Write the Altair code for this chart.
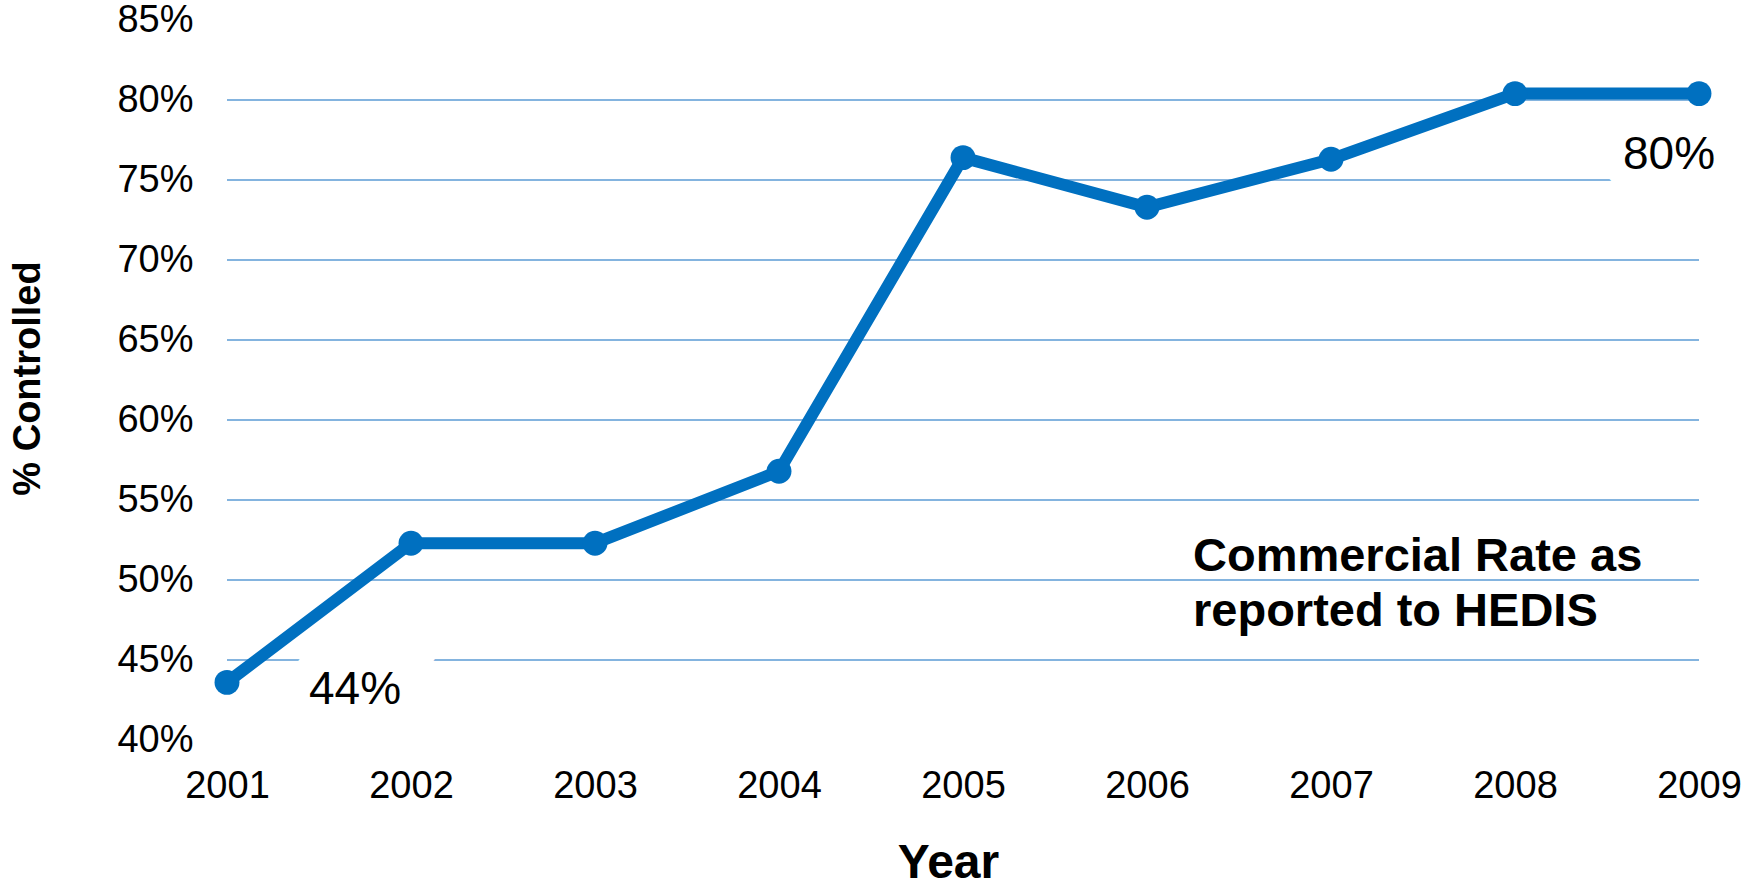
import altair as alt
import pandas as pd

# ---- data ----
years = [2001, 2002, 2003, 2004, 2005, 2006, 2007, 2008, 2009]
rates = [0.436, 0.523, 0.523, 0.568, 0.764, 0.733, 0.763, 0.804, 0.804]
y_ticks = [0.40, 0.45, 0.50, 0.55, 0.60, 0.65, 0.70, 0.75, 0.80, 0.85]
grid_values = [0.45, 0.50, 0.55, 0.60, 0.65, 0.70, 0.75, 0.80]
first_label = ["44%"]
last_label = ["80%"]
note_text = ["Commercial Rate as\nreported to HEDIS"]
note_year = [2006.25]
note_rate = [0.5056]

FONT = "Liberation Sans"
BLUE = "#0070C0"
GRID = "#5B9BD5"

df = pd.DataFrame({"year": years, "rate": rates})
grid_df = pd.DataFrame({"rate": grid_values})
first_df = pd.DataFrame({"year": [years[0]], "rate": [rates[0]], "text": first_label})
last_df = pd.DataFrame({"year": [years[-1]], "rate": [rates[-1]], "text": last_label})
note_df = pd.DataFrame({"year": note_year, "rate": note_rate, "text": note_text})

xs = alt.Scale(domain=[years[0], years[-1]], nice=False, zero=False)
ys = alt.Scale(domain=[y_ticks[0], y_ticks[-1]], nice=False, zero=False)

x_axis = alt.Axis(
    values=years, format="d", title="Year", grid=False, domain=False, ticks=False,
    labelFont=FONT, labelFontSize=38, labelColor="black", labelPadding=27,
    labelFlush=False, labelOverlap=False,
    titleFont=FONT, titleFontSize=48, titleFontWeight="bold", titleColor="black",
    titleX=721, titleY=137, titleAlign="center", titleBaseline="alphabetic",
)
y_axis = alt.Axis(
    values=y_ticks, format=".0%", title="% Controlled", grid=False, domain=False, ticks=False,
    labelFont=FONT, labelFontSize=38, labelColor="black", labelPadding=34,
    labelFlush=False, labelOverlap=False,
    titleFont=FONT, titleFontSize=38, titleFontWeight="bold", titleColor="black",
    titleAngle=270, titleX=-188, titleY=358, titleAlign="center", titleBaseline="alphabetic",
)

X = alt.X("year:Q", scale=xs, axis=x_axis)
Y = alt.Y("rate:Q", scale=ys, axis=y_axis)

grid = alt.Chart(grid_df).mark_rule(color=GRID, strokeWidth=1.3).encode(
    y=alt.Y("rate:Q", scale=ys)
)

halo_first = alt.Chart(first_df).mark_text(
    font=FONT, fontSize=46, dx=128, dy=22, align="center", baseline="alphabetic",
    fill="white", stroke="white", strokeWidth=56
).encode(x=alt.X("year:Q", scale=xs), y=alt.Y("rate:Q", scale=ys), text="text:N")

halo_last = alt.Chart(last_df).mark_text(
    font=FONT, fontSize=46, dx=-30, dy=75, align="center", baseline="alphabetic",
    fill="white", stroke="white", strokeWidth=44
).encode(x=alt.X("year:Q", scale=xs), y=alt.Y("rate:Q", scale=ys), text="text:N")

line = alt.Chart(df).mark_line(color=BLUE, strokeWidth=12).encode(x=X, y=Y)
points = alt.Chart(df).mark_circle(color=BLUE, size=620, opacity=1).encode(
    x=alt.X("year:Q", scale=xs), y=alt.Y("rate:Q", scale=ys)
)

text_first = alt.Chart(first_df).mark_text(
    font=FONT, fontSize=46, dx=128, dy=22, align="center", baseline="alphabetic", color="black"
).encode(x=alt.X("year:Q", scale=xs), y=alt.Y("rate:Q", scale=ys), text="text:N")

text_last = alt.Chart(last_df).mark_text(
    font=FONT, fontSize=46, dx=-30, dy=75, align="center", baseline="alphabetic", color="black"
).encode(x=alt.X("year:Q", scale=xs), y=alt.Y("rate:Q", scale=ys), text="text:N")

note = alt.Chart(note_df).mark_text(
    font=FONT, fontSize=47, fontWeight="bold", align="left", baseline="alphabetic",
    color="black", lineBreak="\n", lineHeight=55
).encode(x=alt.X("year:Q", scale=xs), y=alt.Y("rate:Q", scale=ys), text="text:N")

chart = alt.layer(
    grid, halo_first, halo_last, line, points, text_first, text_last, note
).properties(
    width=1472, height=720,
    autosize=alt.AutoSizeParams(type="none"),
    padding={"left": 227, "top": 20, "right": 47, "bottom": 143},
    background="white",
).configure_view(stroke=None)

chart.save("out.html", embed_options={"renderer": "svg", "actions": False})
